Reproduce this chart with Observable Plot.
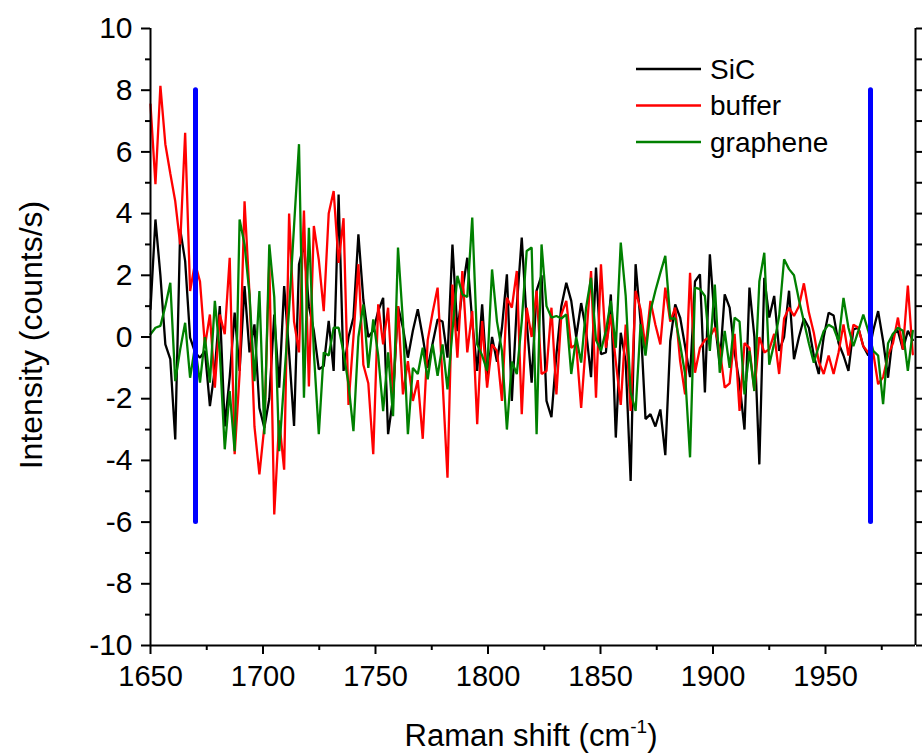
<!DOCTYPE html>
<html>
<head>
<meta charset="utf-8">
<script src="https://cdn.jsdelivr.net/npm/d3@7"></script>
<script src="https://cdn.jsdelivr.net/npm/@observablehq/plot@0.6"></script>
<style>
  html, body { margin: 0; padding: 0; background: #fff; }
  #chart { width: 922px; height: 756px; }
</style>
</head>
<body>
<div id="chart"></div>
<script>
// Raman shift grid (cm^-1): first point and spacing of the spectrometer channels
const shiftStart = 1650;
const shiftStep = 2.2;

// Intensities (counts/s)
const sic = [
  0.9, 3.81, 2.0, -0.24, -0.72, -3.32, 3.49, 2.46, -0.02, -0.5,
  -0.67, -0.45, -2.24, -1.05, 1.0, -2.9, -1.3, 0.79, -1.1, 1.65,
  -0.5, 0.41, -2.3, -2.94, -2.0, 0.73, -1.64, 1.65, -0.5, -2.88,
  2.36, 3.0, 1.0, 0.2, -1.05, -0.94, 0.52, -1.1, 4.62, -1.1,
  0.0, 0.63, 3.33, 1.2, 0.0, 0.2, 0.84, 1.27, -3.15, -1.97,
  1.0, 0.3, -0.67, 0.2, 0.9, 0.0, -1.0, -0.2, 0.57, 0.5,
  -0.67, 3.0, 0.19, 1.5, 2.57, 0.5, -1.1, 1.06, -1.43, 0.0,
  -0.8, 0.3, 2.03, -2.07, 1.0, 3.22, 0.5, -1.48, 1.5, 2.0,
  -2.07, -2.6, -0.56, 1.0, 1.76, 1.17, 0.0, 1.1, 0.2, -1.3,
  2.25, -0.56, -0.5, 1.38, -3.26, 0.14, -0.8, -4.67, 2.36, 0.5,
  -2.66, -2.5, -2.9, -2.35, -3.83, -0.13, 1.06, 0.63, -0.3, -1.3,
  1.8, 2.03, -1.8, 2.68, 0.5, -0.89, 1.38, 0.95, -0.5, -1.5,
  -3.0, 1.6, 0.0, -4.13, 1.92, 0.63, 1.33, -0.45, 0.0, 1.5,
  -0.72, 0.0, 0.6, 0.3, -0.6, -1.2, 0.0, 0.79, 0.7, -0.2,
  -0.6, -1.1, 0.25, 0.3, -0.3, -0.6, 0.2, 0.84, -0.13, -1.32,
  0.1, 0.2, -0.4, 0.2, -0.1
];
const buffer = [
  7.54, 4.95, 8.14, 6.25, 5.3, 4.4, 3.0, 6.62, 1.49, 2.4,
  1.8, -0.29, 0.73, -1.64, 0.73, 0.09, 2.57, -3.8, -1.2, 4.4,
  1.4, -2.9, -4.45, -2.9, 2.46, -5.75, -2.7, -4.3, 4.0, 0.5,
  -0.5, 4.1, -1.6, 3.6, 2.5, 0.84, 4.0, 4.73, 2.4, 3.85,
  -2.2, 0.0, 2.36, -0.9, -1.5, -3.8, 1.06, -0.24, 0.95, -1.86,
  1.0, -1.86, -0.78, -2.07, -1.4, -3.3, -0.1, 0.8, 1.6, -1.43,
  -4.56, 1.7, -0.67, 2.14, -0.5, 0.84, -2.83, 0.52, -1.64, -0.24,
  -0.45, -2.07, 1.27, 0.95, 2.14, -2.5, 0.95, 0.0, 1.5, -1.2,
  -1.1, 0.95, -1.86, 0.73, 1.17, -0.35, -0.24, -2.3, -0.1, 2.14,
  -1.97, 2.36, -0.35, 0.73, -0.8, -2.2, 0.4, -2.4, 1.5, 0.9,
  -0.35, 1.17, 0.4, -0.24, 1.6, 0.5, 0.95, -0.78, -1.86, 2.08,
  -1.16, -0.35, -0.1, 0.0, 0.3, -0.4, -1.64, -1.5, 0.1, -2.4,
  -0.2, -0.35, -1.75, 0.0, -0.5, -0.4, 0.1, -1.2, 0.6, 0.95,
  0.68, 1.0, 1.74, 0.8, 0.14, -0.8, -1.2, -0.6, -1.2, -0.5,
  0.41, -0.6, 0.4, 0.3, -0.3, -0.5, -0.5, -1.53, -1.3, -0.6,
  -0.2, 0.63, -0.4, 1.67, -0.56
];
const graphene = [
  0.09, 0.3, 0.36, 1.0, 1.76, -1.43, -0.4, 0.46, -1.32, -0.3,
  -1.48, 0.0, -1.48, 1.17, -0.5, -3.64, -1.75, -3.7, 3.81, 3.0,
  1.38, -1.43, 1.49, -3.15, 3.0, 1.3, -3.7, -1.4, 0.9, 3.6,
  6.25, -1.97, 3.54, -0.5, -3.15, -0.5, -0.6, 0.3, 0.3, -0.5,
  -1.53, -3.05, 0.0, 1.06, -1.0, 0.57, -0.6, -2.4, -0.5, -2.57,
  2.9, 0.5, -3.15, -1.0, -1.2, -0.35, -1.37, -0.24, -1.26, -0.24,
  -1.7, 0.2, 1.98, 1.38, 1.3, 3.87, -0.24, -0.6, -1.1, 2.19,
  0.5, -0.45, -3.0, -0.8, -1.2, 0.5, 2.79, 2.9, -3.15, 3.0,
  1.0, 0.63, 0.68, 0.6, 0.73, -1.2, 0.0, -0.83, 0.95, 1.92,
  -0.1, -0.45, 0.2, 1.17, -0.35, 3.06, 1.33, -1.8, -2.4, 0.41,
  -0.6, 0.84, 1.5, 2.08, 2.63, 0.6, 0.6, -0.24, -1.2, -3.9,
  1.6, 1.55, 1.33, -0.45, 1.7, -1.16, 0.2, -1.0, 0.63, 0.5,
  -1.86, -0.45, -1.75, 1.8, 2.73, -0.9, -0.2, 0.68, 2.52, 2.2,
  2.0, 1.2, 0.5, -0.2, -0.83, -0.3, 0.19, 0.4, 0.3, -0.13,
  1.27, 0.3, -0.3, 0.2, 0.73, 0.2, -0.45, -0.6, -2.18, -0.2,
  0.1, 0.3, 0.2, -1.1, 0.2
];

const seriesNames = ["SiC", "buffer", "graphene"];
const seriesColors = ["#000000", "#ff0000", "#008000"];

// Vertical markers (blue bars)
const markerShifts = [1670, 1970];
const markerRange = [-6, 8];

// Axes
const xDomain = [1650, 1990];
const yDomain = [-10, 10];
const xTicks = [1650, 1700, 1750, 1800, 1850, 1900, 1950];
const xMinorTicks = [1675, 1725, 1775, 1825, 1875, 1925, 1975];
const yTicks = [-10, -8, -6, -4, -2, 0, 2, 4, 6, 8, 10];
const yMinorTicks = [-9, -7, -5, -3, -1, 1, 3, 5, 7, 9];
const yAllTicks = yTicks.concat(yMinorTicks);

const xTitle = "Raman shift (cm";
const xTitleSup = "-1";
const yTitle = "Intensity (counts/s)";

// Build tidy table
const allSeries = [sic, buffer, graphene];
const rows = [];
allSeries.forEach((vals, s) => {
  vals.forEach((v, i) => {
    rows.push({series: seriesNames[s], shift: shiftStart + i * shiftStep, value: v});
  });
});
const markers = markerShifts.map(x => ({x, y1: markerRange[0], y2: markerRange[1]}));

const FONT = "'Liberation Sans', Arial, sans-serif";

const chart = Plot.plot({
  width: 922,
  height: 756,
  marginLeft: 150,
  marginRight: 7,
  marginTop: 28,
  marginBottom: 111,
  style: {fontFamily: FONT, fontSize: "29px", background: "#fff", color: "#000", overflow: "visible"},
  x: {domain: xDomain},
  y: {domain: yDomain},
  color: {domain: seriesNames, range: seriesColors},
  marks: [
    Plot.line(rows, {x: "shift", y: "value", z: "series", stroke: "series", strokeWidth: 2.3, strokeLinejoin: "miter"}),
    Plot.ruleX(markers, {x: "x", y1: "y1", y2: "y2", stroke: "#0000ff", strokeWidth: 5, strokeLinecap: "round"}),
    // frame lines
    Plot.ruleX([xDomain[0], xDomain[1]], {stroke: "#000", strokeWidth: 2}),
    Plot.ruleY([yDomain[0]], {stroke: "#000", strokeWidth: 2}),
    // left axis
    Plot.axisY({ticks: yTicks, tickSize: 9, tickPadding: 9, tickFormat: d => String(d), label: null, strokeWidth: 2, fontSize: 30}),
    Plot.axisY({ticks: yMinorTicks, tickSize: 5, tickFormat: () => "", label: null, strokeWidth: 2}),
    // right axis (ticks only)
    Plot.axisY({anchor: "right", ticks: yAllTicks, tickSize: 7, tickFormat: () => "", label: null, strokeWidth: 2}),
    // bottom axis
    Plot.axisX({ticks: xTicks, tickSize: 9, tickPadding: 11, tickFormat: d => String(d), label: null, strokeWidth: 2, fontSize: 29}),
    Plot.axisX({ticks: xMinorTicks, tickSize: 5, tickFormat: () => "", label: null, strokeWidth: 2})
  ]
});

document.getElementById("chart").appendChild(chart);

// Titles and legend drawn into the same SVG
const svg = d3.select(chart);
const xt = svg.append("text")
  .attr("x", 531).attr("y", 746)
  .attr("text-anchor", "middle")
  .attr("font-family", FONT).attr("font-size", 31).attr("fill", "#000");
xt.append("tspan").text(xTitle);
xt.append("tspan").attr("font-size", 19).attr("dy", -13).text(xTitleSup);
xt.append("tspan").attr("dy", 13).text(")");

svg.append("text")
  .attr("transform", "translate(42,335) rotate(-90)")
  .attr("text-anchor", "middle")
  .attr("font-family", FONT).attr("font-size", 32).attr("fill", "#000")
  .text(yTitle);

const legend = svg.append("g");
seriesNames.forEach((name, k) => {
  const y = 69 + k * 36.5;
  legend.append("line").attr("x1", 636).attr("x2", 701).attr("y1", y).attr("y2", y)
    .attr("stroke", seriesColors[k]).attr("stroke-width", 2.3);
  legend.append("text").attr("x", 710).attr("y", y).attr("dy", "0.35em")
    .attr("text-anchor", "start")
    .attr("font-family", FONT).attr("font-size", 28).attr("fill", "#000").text(name);
});
</script>
</body>
</html>
